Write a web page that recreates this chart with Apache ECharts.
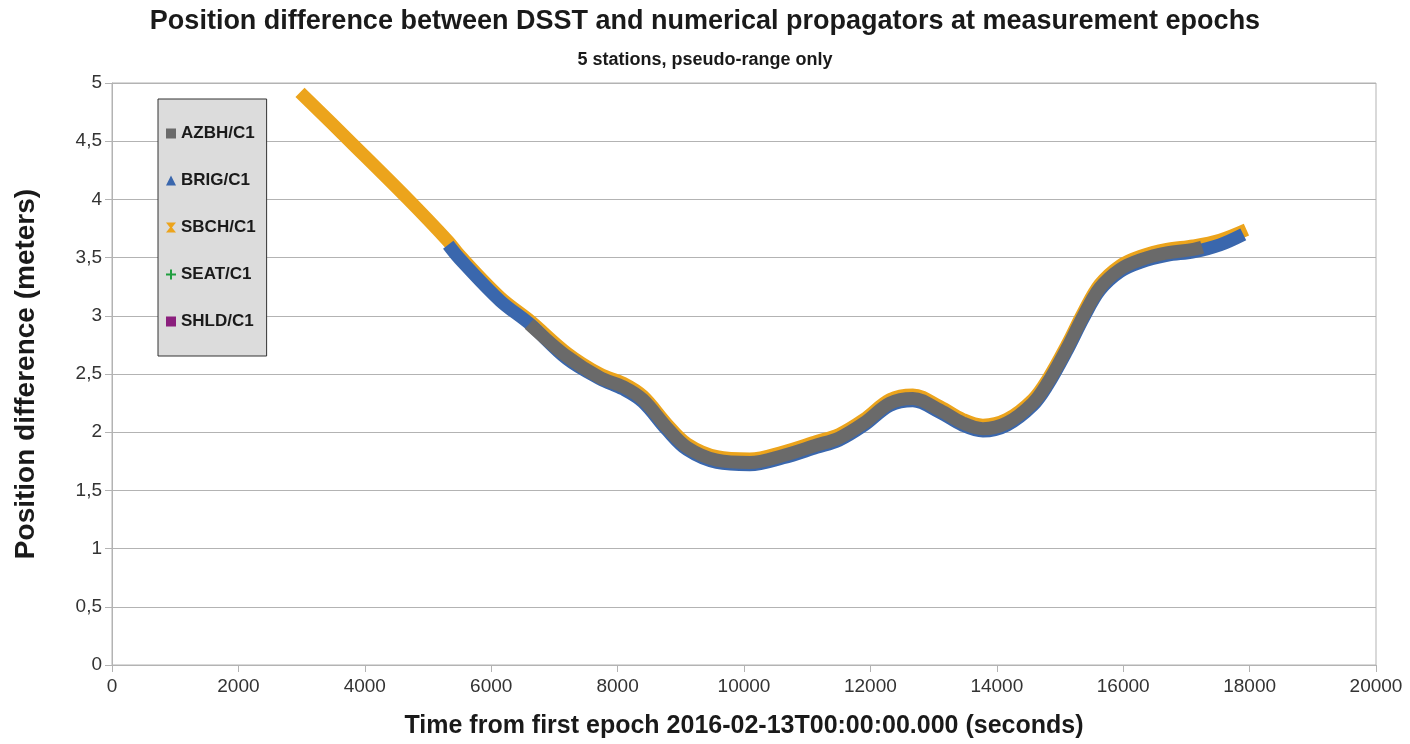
<!DOCTYPE html>
<html>
<head>
<meta charset="utf-8">
<title>Position difference between DSST and numerical propagators</title>
<script src="https://cdn.jsdelivr.net/npm/echarts@6/dist/echarts.min.js"></script>
<style>
  html, body { margin: 0; padding: 0; background: #fff; }
  #chart { width: 1410px; height: 744px; }
</style>
</head>
<body>
<div id="chart"></div>
<script>
// values: [time (s), position difference (m)]
const stations = ['AZBH/C1', 'BRIG/C1', 'SBCH/C1', 'SEAT/C1', 'SHLD/C1'];

const azbh = [
  [6600, 2.93], [7200, 2.65], [7720, 2.47], [8090, 2.39], [8400, 2.28],
  [8780, 2.04], [9100, 1.87], [9570, 1.76], [10090, 1.74], [10620, 1.80],
  [11150, 1.89], [11500, 1.95], [11900, 2.08], [12310, 2.25], [12670, 2.29],
  [13100, 2.19], [13460, 2.08], [13780, 2.03], [14160, 2.08], [14570, 2.25],
  [14800, 2.42], [15110, 2.72], [15370, 3.00], [15630, 3.24], [15950, 3.40],
  [16270, 3.48], [16690, 3.54], [17110, 3.57], [17250, 3.59]
];
const brig = [
  [5320, 3.61], [5500, 3.49], [6140, 3.13], [6610, 2.93], [7200, 2.63],
  [7720, 2.46], [8090, 2.37], [8400, 2.26], [8780, 2.02], [9100, 1.85],
  [9570, 1.74], [10090, 1.72], [10620, 1.78], [11150, 1.87], [11500, 1.93],
  [11900, 2.06], [12310, 2.23], [12670, 2.27], [13100, 2.17], [13460, 2.06],
  [13780, 2.01], [14160, 2.06], [14570, 2.23], [14800, 2.40], [15110, 2.70],
  [15370, 2.98], [15630, 3.22], [15950, 3.38], [16270, 3.46], [16690, 3.52],
  [17110, 3.55], [17530, 3.61], [17900, 3.70]
];
const sbch = [
  [2975, 4.92], [3800, 4.48], [4670, 4.01], [5320, 3.64], [5500, 3.52],
  [6140, 3.16], [6610, 2.96], [7200, 2.68], [7720, 2.50], [8090, 2.42],
  [8400, 2.31], [8780, 2.07], [9100, 1.90], [9570, 1.79], [10090, 1.77],
  [10620, 1.83], [11150, 1.92], [11500, 1.98], [11900, 2.11], [12310, 2.28],
  [12670, 2.32], [13100, 2.22], [13460, 2.11], [13780, 2.06], [14160, 2.11],
  [14570, 2.28], [14800, 2.45], [15110, 2.75], [15370, 3.03], [15630, 3.27],
  [15950, 3.43], [16270, 3.51], [16690, 3.57], [17110, 3.60], [17530, 3.65],
  [17950, 3.74]
];
const seat = [];
const shld = [];

const chartDom = document.getElementById('chart');
const myChart = echarts.init(chartDom);

const font = 'Liberation Sans, Arial, sans-serif';
const lineSeries = (name, data, color, z) => ({
  name: name,
  type: 'line',
  data: data,
  z: z,
  smooth: 0.35,
  symbol: 'none',
  itemStyle: { color: color },
  lineStyle: { color: color, width: 13 }
});

const option = {
  backgroundColor: '#ffffff',
  animation: false,
  title: [
    {
      text: 'Position difference between DSST and numerical propagators at measurement epochs',
      left: 'center',
      top: 3,
      textStyle: { fontFamily: font, fontSize: 27, fontWeight: 'bold', color: '#1a1a1a' }
    },
    {
      text: '5 stations, pseudo-range only',
      left: 'center',
      top: 46,
      textStyle: { fontFamily: font, fontSize: 18, fontWeight: 'bold', color: '#1a1a1a' }
    }
  ],
  legend: {
    orient: 'vertical',
    left: 158,
    top: 99,
    padding: [26, 11, 26, 8],
    itemGap: 30,
    itemWidth: 10,
    itemHeight: 10,
    backgroundColor: '#dcdcdc',
    borderColor: '#333333',
    borderWidth: 1,
    textStyle: { fontFamily: font, fontSize: 17, fontWeight: 'bold', color: '#1a1a1a' },
    data: [
      { name: stations[0], icon: 'rect' },
      { name: stations[1], icon: 'triangle' },
      { name: stations[2], icon: 'path://M0,0 L10,0 L6,5 L10,10 L0,10 L4,5 Z' },
      { name: stations[3], icon: 'path://M4,0 H6 V4 H10 V6 H6 V10 H4 V6 H0 V4 H4 Z' },
      { name: stations[4], icon: 'rect' }
    ]
  },
  grid: {
    left: 112,
    right: 34,
    top: 83,
    bottom: 79,
    show: true,
    borderColor: '#b3b3b3',
    borderWidth: 1
  },
  xAxis: {
    type: 'value',
    min: 0,
    max: 20000,
    interval: 2000,
    name: 'Time from first epoch 2016-02-13T00:00:00.000 (seconds)',
    nameLocation: 'middle',
    nameGap: 49,
    nameTextStyle: { fontFamily: font, fontSize: 25, fontWeight: 'bold', color: '#1a1a1a' },
    axisLine: { show: true, lineStyle: { color: '#b3b3b3' } },
    axisTick: { show: true, length: 7, lineStyle: { color: '#b3b3b3' } },
    axisLabel: {
      margin: 12,
      fontFamily: font,
      fontSize: 19,
      color: '#333333',
      formatter: (v) => String(v)
    },
    splitLine: { show: false }
  },
  yAxis: {
    type: 'value',
    min: 0,
    max: 5,
    interval: 0.5,
    name: 'Position difference (meters)',
    nameLocation: 'middle',
    nameGap: 72,
    nameTextStyle: { fontFamily: font, fontSize: 28, fontWeight: 'bold', color: '#1a1a1a' },
    axisLine: { show: true, lineStyle: { color: '#b3b3b3' } },
    axisTick: { show: true, length: 7, lineStyle: { color: '#b3b3b3' } },
    axisLabel: {
      margin: 10,
      fontFamily: font,
      fontSize: 19,
      color: '#333333',
      formatter: (v) => String(v).replace('.', ',')
    },
    splitLine: { show: true, lineStyle: { color: '#b3b3b3', width: 1 } }
  },
  series: [
    lineSeries(stations[0], azbh, '#6a6a6a', 5),
    lineSeries(stations[1], brig, '#3a67ad', 4),
    lineSeries(stations[2], sbch, '#eca41c', 3),
    lineSeries(stations[3], seat, '#1f9e3f', 2),
    lineSeries(stations[4], shld, '#8b1f7d', 1)
  ]
};

myChart.setOption(option);
window.onresize = () => myChart.resize();
</script>
</body>
</html>
